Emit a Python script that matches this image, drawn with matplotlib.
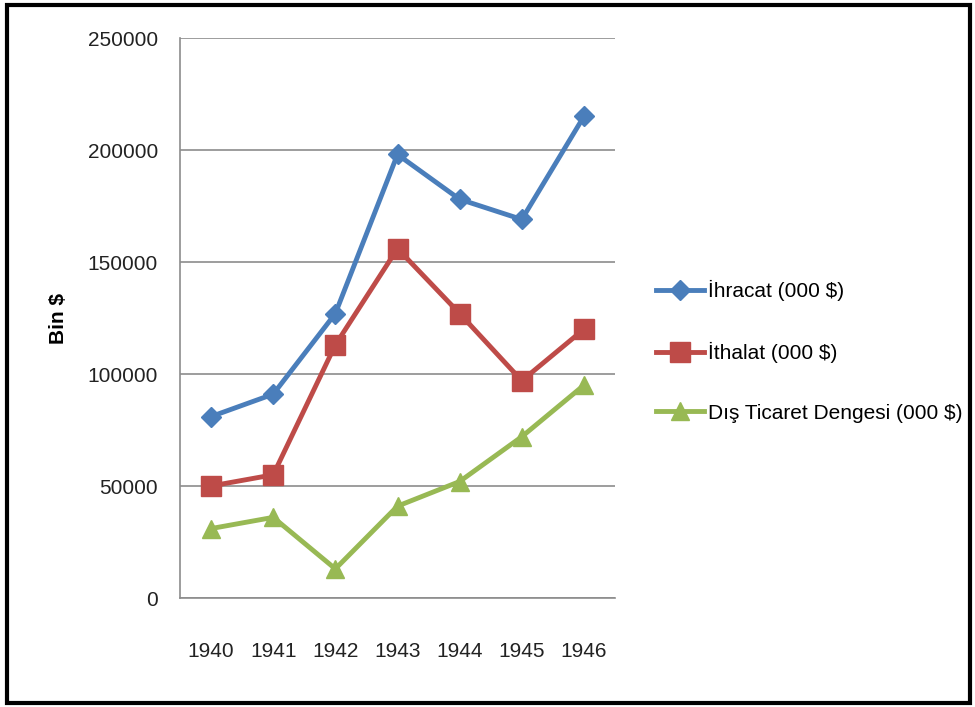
import matplotlib.pyplot as plt
from matplotlib.patches import Rectangle

years = ["1940", "1941", "1942", "1943", "1944", "1945", "1946"]
ihracat = [81000, 91000, 127000, 198000, 178000, 169000, 215000]
ithalat = [50000, 55000, 113000, 156000, 127000, 97000, 120000]
denge = [31000, 36000, 13000, 41000, 52000, 72000, 95000]

labels = ["İhracat (000 $)", "İthalat (000 $)", "Dış Ticaret Dengesi (000 $)"]
colors = ["#4a7ebb", "#be4b48", "#98b954"]
markers = ["D", "s", "^"]
sizes = [10, 14, 13]

plt.rcParams["font.family"] = ["Liberation Sans", "DejaVu Sans"]

fig = plt.figure(figsize=(9.75, 7.07), dpi=100)
ax = fig.add_axes([180 / 975, 1 - 598 / 707, 435 / 975, 560 / 707])

x = range(len(years))
for vals, lab, c, m, s in zip([ihracat, ithalat, denge], labels, colors, markers, sizes):
    ax.plot(x, vals, color=c, lw=3.5, marker=m, ms=s, label=lab)

ax.set_xlim(-0.5, len(years) - 0.5)
ax.set_ylim(0, 250000)
ax.set_yticks(range(0, 250001, 50000))
ax.set_xticks(list(x))
ax.set_xticklabels(years)
ax.grid(axis="y", color="#8c8c8c", lw=1.2)
ax.set_axisbelow(True)
for side in ["top", "right"]:
    ax.spines[side].set_visible(False)
for side in ["left", "bottom"]:
    ax.spines[side].set_color("#8c8c8c")
    ax.spines[side].set_linewidth(1.2)
ax.tick_params(axis="y", length=0, pad=16, labelsize=15, labelcolor="#222222")
ax.tick_params(axis="x", length=0, pad=32, labelsize=15, labelcolor="#222222")
ax.set_ylabel("Bin $", fontsize=15, fontweight="bold", labelpad=14)

ax.legend(loc="center left", bbox_to_anchor=(1.05, 0.44), frameon=False,
          fontsize=15, labelspacing=1.95, handlelength=2.35, handletextpad=0.15)

fig.patches.append(Rectangle((7 / 975, 4 / 707), 963 / 975, 698 / 707,
                             transform=fig.transFigure, fill=False,
                             edgecolor="black", lw=3))

fig.savefig("out.png", dpi=100)
